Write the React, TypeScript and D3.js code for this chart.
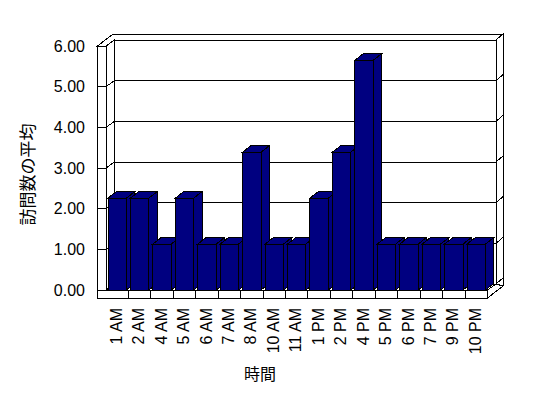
import * as d3 from 'd3';

const categories = ['1 AM', '2 AM', '4 AM', '5 AM', '6 AM', '7 AM', '8 AM', '10 AM', '11 AM', '1 PM', '2 PM', '4 PM', '5 PM', '6 PM', '7 PM', '9 PM', '10 PM'];
const visits = [2.26, 2.26, 1.13, 2.26, 1.13, 1.13, 3.39, 1.13, 1.13, 2.26, 3.39, 5.65, 1.13, 1.13, 1.13, 1.13, 1.13];
const yTicks = [0, 1, 2, 3, 4, 5, 6];

const W = 548, H = 398;
// oblique depth offsets
const DX = 8.5, DY = -6;      // floor / plot depth
const TX = 7, TY = -6;        // wall thickness
const BX = 8.3, BY = -6.5;    // bar depth

export default function App() {
  const x = d3.scaleBand<string>().domain(categories).range([106, 487.5]).paddingInner(0.18).paddingOuter(0.09);
  const band = d3.scaleBand<string>().domain(categories).range([106, 487.5]);
  const y = d3.scaleLinear().domain([0, 6]).range([290, 46]);
  const fmt = d3.format('.2f');

  const x0 = 106, x1 = 487.5, wallL = 97.5;
  const yT = y(6), yB = y(0), floorB = 298;
  const pts = (a: [number, number][]) => a.map(p => p.join(',')).join(' ');
  const stroke = { stroke: '#000', strokeWidth: 1, fill: '#fff' };

  return (
    <svg width={W} height={H} style={{ position: 'absolute', left: 0, top: 0, background: '#fff' }}
      fontFamily="'Liberation Sans', Arial, sans-serif" shapeRendering="crispEdges">
      {/* back wall top face + left wall top */}
      <polygon {...stroke} points={pts([[wallL, yT], [wallL + DX + TX, yT + DY + TY], [x1 + DX + TX, yT + DY + TY], [x1 + DX, yT + DY], [x0 + DX, yT + DY], [x0, yT]])} />
      {/* back wall face */}
      <polygon {...stroke} points={pts([[x0 + DX, yT + DY], [x1 + DX, yT + DY], [x1 + DX, yB + DY], [x0 + DX, yB + DY]])} />
      {/* back wall right side */}
      <polygon {...stroke} points={pts([[x1 + DX, yT + DY], [x1 + DX + TX, yT + DY + TY], [x1 + DX + TX, floorB + DY + TY], [x1, floorB], [x1, yB], [x1 + DX, yB + DY]])} />
      {/* left wall front face */}
      <polygon {...stroke} points={pts([[wallL, yT], [x0, yT], [x0, yB], [wallL, yB]])} />
      {/* left wall inner face */}
      <polygon {...stroke} points={pts([[x0, yT], [x0 + DX, yT + DY], [x0 + DX, yB + DY], [x0, yB]])} />
      {/* floor top */}
      <polygon {...stroke} points={pts([[x0, yB], [x1, yB], [x1 + DX, yB + DY], [x0 + DX, yB + DY]])} />
      {/* floor front face */}
      <polygon {...stroke} points={pts([[wallL, yB], [x1, yB], [x1, floorB], [wallL, floorB]])} />
      {/* floor right side */}
      <polygon {...stroke} points={pts([[x1, yB], [x1 + DX, yB + DY], [x1 + DX + TX, floorB + DY + TY], [x1, floorB]])} />

      {/* gridlines */}
      {yTicks.map(t => {
        const yy = y(t);
        return (
          <g key={t} fill="none" stroke="#000">
            <line x1={wallL} x2={x0} y1={yy} y2={yy} />
            <polyline points={pts([[x0, yy], [x0 + DX, yy + DY], [x1 + DX, yy + DY], [x1 + DX + TX, yy + DY + TY]])} />
          </g>
        );
      })}

      {/* category dividers on floor front */}
      {categories.slice(1).map(c => (
        <line key={c} x1={band(c)} x2={band(c)} y1={yB} y2={floorB} stroke="#000" />
      ))}

      {/* bars */}
      {categories.map((c, i) => {
        const xl = x(c)!, w = x.bandwidth();
        const yt = y(visits[i]);
        return (
          <g key={c} fill="#000080" stroke="#000" strokeWidth={1}>
            <polygon points={pts([[xl + w, yt], [xl + w + BX, yt + BY], [xl + w + BX, yB + BY], [xl + w, yB]])} />
            <polygon points={pts([[xl, yt], [xl + BX, yt + BY], [xl + w + BX, yt + BY], [xl + w, yt]])} />
            <rect x={xl} y={yt} width={w} height={yB - yt} />
          </g>
        );
      })}

      {/* y tick labels */}
      {yTicks.map(t => (
        <text key={t} x={85} y={y(t)} dy="0.35em" textAnchor="end" fontSize={16} fill="#000" shapeRendering="auto">{fmt(t)}</text>
      ))}

      {/* x tick labels */}
      {categories.map(c => (
        <text key={c} transform={`translate(${band(c)! + band.bandwidth() / 2 - 1},308) rotate(-90)`} dy="0.35em"
          textAnchor="end" fontSize={16} fill="#000">{c}</text>
      ))}

      <text transform="translate(28,174.5) rotate(-90)" textAnchor="middle" dy="0.35em" fontSize={17}
        fontFamily="'Noto Sans CJK JP', sans-serif" fill="#000">訪問数の平均</text>
      <text x={260} y={374} textAnchor="middle" dy="0.35em" fontSize={16}
        fontFamily="'Noto Sans CJK JP', sans-serif" fill="#000">時間</text>
    </svg>
  );
}
